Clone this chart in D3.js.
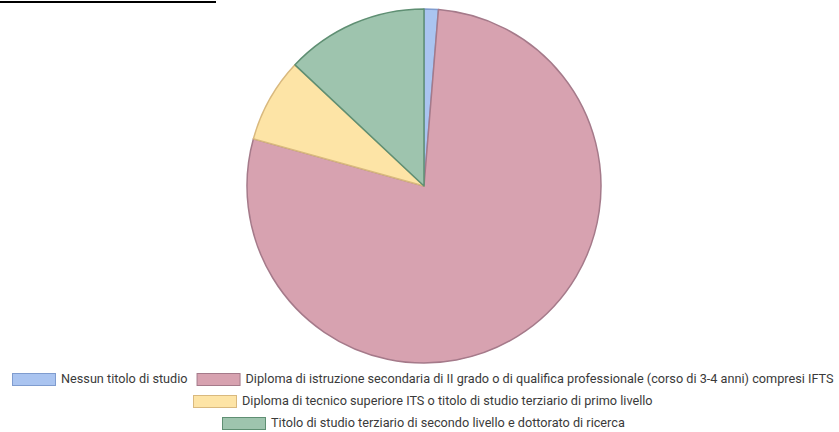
<!DOCTYPE html>
<html>
<head>
<meta charset="utf-8">
<script src="https://cdn.jsdelivr.net/npm/d3@7"></script>
<style>
  body { margin: 0; background: #fff; }
  svg { display: block; font-family: Roboto, "Noto Sans", sans-serif; }
</style>
</head>
<body>
<svg id="chart" width="839" height="432"></svg>
<script>
// data
const categories = [
    "Nessun titolo di studio",
    "Diploma di istruzione secondaria di II grado o di qualifica professionale (corso di 3-4 anni) compresi IFTS",
    "Diploma di tecnico superiore ITS o titolo di studio terziario di primo livello",
    "Titolo di studio terziario di secondo livello e dottorato di ricerca"
]
const values = [1.3, 78.0, 7.7, 13.0]
const fillColors = ["#aac4f0", "#d7a2b0", "#fde4a6", "#9ec4ae"]
const strokeColors = ["#7f9ccf", "#a57a8a", "#d9b97e", "#5f8f73"]
const legendRows = [[0, 1], [2], [3]]

const svg = d3.select("#chart")
const cx = 424, cy = 186, radius = 177

// black rule at the top
svg.append("rect")
    .attr("x", 0)
    .attr("y", 1)
    .attr("width", 216)
    .attr("height", 2)
    .attr("fill", "#000")

// pie
const pie = d3.pie().sort(null).value(d => d)
const arc = d3.arc().innerRadius(0).outerRadius(radius)

svg.append("g")
    .attr("transform", `translate(${cx},${cy})`)
    .selectAll("path")
    .data(pie(values))
    .enter()
    .append("path")
    .attr("d", arc)
    .attr("fill", (d, i) => fillColors[i])
    .attr("stroke", (d, i) => strokeColors[i])
    .attr("stroke-width", 1.5)
    .attr("stroke-linejoin", "round")

// legend
const boxW = 43, boxH = 12, gap = 6, itemGap = 9
const rowY = [379, 401, 423]
const legend = svg.append("g").attr("font-size", 12.7).attr("fill", "#3a3a3a")

legendRows.forEach((row, r) => {
    const rowG = legend.append("g")
    let x = 0
    row.forEach(i => {
        const item = rowG.append("g").attr("transform", `translate(${x},0)`)
        item.append("rect")
            .attr("x", 0.5)
            .attr("y", rowY[r] - boxH / 2 + 0.5)
            .attr("width", boxW)
            .attr("height", boxH)
            .attr("fill", fillColors[i])
            .attr("stroke", strokeColors[i])
            .attr("stroke-width", 1)
        const t = item.append("text")
            .attr("x", boxW + gap)
            .attr("y", rowY[r])
            .attr("dy", "0.35em")
            .text(categories[i])
        x += boxW + gap + t.node().getComputedTextLength() + itemGap
    })
    const rowWidth = x - itemGap
    rowG.attr("transform", `translate(${Math.round(423 - rowWidth / 2)},0)`)
})
</script>
</body>
</html>
